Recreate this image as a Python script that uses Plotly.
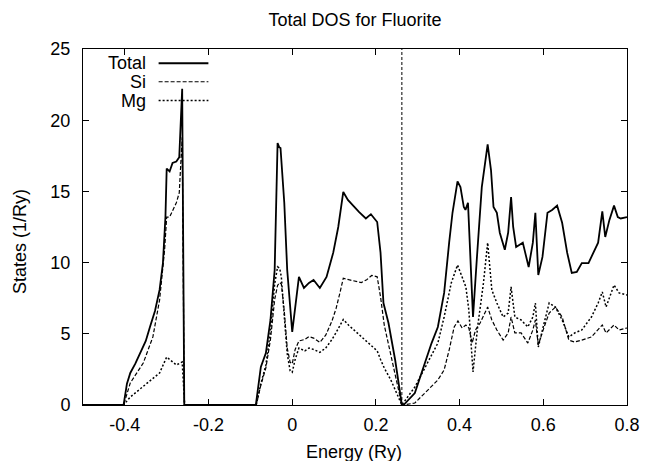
import plotly.graph_objects as go

# Total density of states (states / Ry) versus energy (Ry)
e_total = [-0.5, -0.403, -0.395, -0.387, -0.375, -0.363, -0.350, -0.340, -0.328, -0.317,
           -0.309, -0.303, -0.300, -0.293, -0.286, -0.277, -0.270, -0.263, -0.258,
           -0.087, -0.075, -0.063, -0.052, -0.042, -0.035, -0.031, -0.028, -0.019,
           -0.012, 0.0, 0.007, 0.016, 0.028, 0.040, 0.051, 0.066, 0.082, 0.098, 0.110,
           0.122, 0.133, 0.145, 0.160, 0.176, 0.188, 0.203, 0.211, 0.218, 0.230, 0.246,
           0.262, 0.266, 0.293, 0.317, 0.333, 0.348, 0.363, 0.375, 0.383, 0.395, 0.402,
           0.410, 0.414, 0.420, 0.424, 0.432, 0.441, 0.453, 0.467, 0.475, 0.481, 0.489,
           0.496, 0.508, 0.516, 0.523, 0.528, 0.535, 0.551, 0.565, 0.575, 0.581, 0.588,
           0.598, 0.610, 0.621, 0.633, 0.645, 0.657, 0.668, 0.680, 0.692, 0.708, 0.720,
           0.731, 0.741, 0.748, 0.758, 0.769, 0.778, 0.785, 0.800]
dos_total = [0.0, 0.0, 1.5, 2.25, 2.9, 3.65, 4.5, 5.48, 6.6, 8.08,
             9.97, 13.2, 16.6, 16.4, 17.0, 17.1, 17.4, 22.2, 0.0,
             0.0, 2.67, 3.65, 5.97, 9.48, 18.4, 18.1, 18.05, 14.2,
             9.48, 5.13, 6.67, 8.99, 8.22, 8.57, 8.78, 8.22, 8.99, 10.7, 12.5,
             14.96, 14.4, 14.0, 13.55, 13.1, 13.4, 12.85, 10.7, 7.16, 5.76, 3.16,
             0.0, 0.0, 0.84, 2.95, 4.35, 5.48, 7.87, 11.4, 13.5, 15.7, 15.3,
             13.9, 13.7, 14.2, 11.4, 6.18, 10.2, 15.3, 18.3, 16.5, 13.9, 13.5,
             12.1, 10.9, 12.1, 14.6, 12.5, 11.1, 11.4, 9.69, 11.4, 13.5, 9.13,
             10.4, 13.5, 13.7, 14.0, 12.8, 10.7, 9.27, 9.34, 9.97, 9.97, 10.7,
             11.4, 13.6, 11.8, 13.0, 14.0, 13.2, 13.1, 13.2]

# Si projected DOS
e_si = [-0.5, -0.403, -0.387, -0.356, -0.333, -0.317, -0.305, -0.300, -0.293, -0.277,
        -0.270, -0.263, -0.258,
        -0.086, -0.075, -0.063, -0.052, -0.042, -0.035, -0.030, -0.026, -0.019, -0.012,
        -0.005, 0.0, 0.007, 0.016, 0.030, 0.040, 0.051, 0.066, 0.080, 0.095, 0.105,
        0.115, 0.122, 0.135, 0.150, 0.165, 0.178, 0.190, 0.203, 0.211, 0.220, 0.235,
        0.250, 0.262, 0.266, 0.293, 0.324, 0.348, 0.363, 0.375, 0.387, 0.396, 0.406,
        0.415, 0.422, 0.430, 0.438, 0.449, 0.467, 0.477, 0.489, 0.504, 0.516, 0.523,
        0.532, 0.547, 0.563, 0.575, 0.581, 0.588, 0.602, 0.614, 0.629, 0.645, 0.661,
        0.675, 0.692, 0.715, 0.741, 0.750, 0.769, 0.781, 0.800]
dos_si = [0.0, 0.0, 1.55, 2.95, 4.78, 7.37, 10.9, 13.2, 13.2, 14.2,
          14.9, 18.8, 0.0,
          0.0, 1.4, 2.6, 4.6, 7.4, 8.4, 8.6, 8.5, 6.6, 4.0,
          3.0, 2.9, 3.9, 4.5, 4.6, 4.8, 4.7, 4.4, 4.9, 5.9, 6.8,
          8.0, 8.9, 8.8, 8.7, 8.6, 8.8, 9.1, 9.0, 7.6, 5.6, 3.6,
          1.6, 0.0, 0.0, 0.14, 1.05, 1.76, 2.46, 3.86, 5.48, 5.9, 5.41,
          5.62, 5.41, 4.35, 5.27, 5.76, 6.88, 5.97, 5.27, 4.56, 5.06, 6.18,
          5.06, 5.06, 4.35, 5.27, 5.97, 4.21, 5.48, 6.46, 6.88, 6.18, 4.56,
          4.42, 4.56, 4.78, 5.62, 5.06, 5.62, 5.27, 5.41]

# Mg projected DOS
e_mg = [-0.5, -0.403, -0.387, -0.347, -0.317, -0.300, -0.277, -0.263, -0.257,
        -0.086, -0.075, -0.063, -0.052, -0.042, -0.035, -0.030, -0.026, -0.019, -0.012,
        -0.005, 0.0, 0.007, 0.016, 0.030, 0.040, 0.051, 0.066, 0.080, 0.095, 0.105,
        0.115, 0.122, 0.135, 0.150, 0.165, 0.178, 0.190, 0.203, 0.211, 0.220, 0.235,
        0.250, 0.262, 0.293, 0.324, 0.348, 0.363, 0.380, 0.395, 0.406, 0.415, 0.422,
        0.432, 0.443, 0.457, 0.467, 0.477, 0.489, 0.504, 0.516, 0.523, 0.532, 0.547,
        0.563, 0.575, 0.581, 0.588, 0.602, 0.614, 0.629, 0.645, 0.661, 0.675, 0.692,
        0.715, 0.731, 0.741, 0.750, 0.769, 0.781, 0.800]
dos_mg = [0.0, 0.0, 0.56, 1.55, 2.25, 3.37, 2.81, 3.02, 0.0,
          0.0, 1.5, 2.8, 5.2, 8.5, 9.7, 9.6, 9.0, 6.2, 3.6,
          2.4, 2.3, 3.2, 4.0, 3.8, 4.0, 3.9, 3.7, 4.0, 4.6, 5.1,
          5.6, 6.0, 5.6, 5.2, 4.8, 4.5, 4.2, 3.8, 3.2, 2.6, 1.8,
          0.8, 0.0, 1.26, 2.95, 4.35, 6.18, 8.57, 9.83, 8.99, 8.29, 6.67,
          2.32, 5.48, 8.57, 11.4, 8.08, 7.16, 6.18, 6.46, 8.29, 6.18, 5.97,
          5.48, 6.18, 7.16, 4.07, 5.76, 7.16, 6.88, 5.97, 4.78, 5.06, 5.27,
          6.18, 7.16, 7.94, 6.88, 8.43, 7.87, 7.72]

E_FERMI = 0.262
X_TICKS = [-0.4, -0.2, 0.0, 0.2, 0.4, 0.6, 0.8]
X_TICK_TEXT = ["-0.4", "-0.2", "0", "0.2", "0.4", "0.6", "0.8"]
Y_TICKS = [0, 5, 10, 15, 20, 25]

FONT = "Liberation Sans, Arial, Helvetica, sans-serif"

series = [
    ("Total", e_total, dos_total, dict(color="black", width=1.8, dash="solid")),
    ("Si", e_si, dos_si, dict(color="black", width=1.2, dash="4px,2px")),
    ("Mg", e_mg, dos_mg, dict(color="black", width=1.5, dash="2px,2px")),
]

fig = go.Figure()
for name, x, y, line in reversed(series):
    fig.add_trace(go.Scatter(x=x, y=y, mode="lines", name=name, line=line,
                             showlegend=False))

# Fermi level marker
fig.add_shape(type="line", xref="x", yref="paper", x0=E_FERMI, x1=E_FERMI,
              y0=0, y1=1, line=dict(color="black", width=1, dash="3px,2px"))

# Key in the upper-left corner: label to the left, line sample to the right
key_y = [0.960, 0.908, 0.855]
for (name, _, _, line), ky in zip(series, key_y):
    fig.add_annotation(xref="paper", yref="paper", x=0.1197, y=ky, text=name,
                       showarrow=False, xanchor="right", yanchor="middle",
                       font=dict(family=FONT, size=18, color="black"))
    fig.add_shape(type="line", xref="paper", yref="paper", x0=0.139, x1=0.2305,
                  y0=ky, y1=ky, line=line)

# Axis titles
fig.add_annotation(xref="paper", yref="paper", x=0.498, y=-0.132, text="Energy (Ry)",
                   showarrow=False, xanchor="center", yanchor="middle",
                   font=dict(family=FONT, size=18, color="black"))
fig.add_annotation(xref="paper", yref="paper", x=-0.1155, y=0.458, text="States (1/Ry)",
                   showarrow=False, xanchor="center", yanchor="middle", textangle=-90,
                   font=dict(family=FONT, size=18, color="black"))

axis_common = dict(showline=True, linecolor="black", linewidth=1, mirror="allticks",
                   ticks="inside", ticklen=6, tickwidth=1, tickcolor="black",
                   showgrid=False, zeroline=False,
                   tickfont=dict(family=FONT, size=18, color="black"))

fig.update_xaxes(range=[-0.5, 0.8], tickvals=X_TICKS, ticktext=X_TICK_TEXT,
                 ticklabelstandoff=3, **axis_common)
fig.update_yaxes(range=[0, 25], tickvals=Y_TICKS, ticklabelstandoff=8, **axis_common)

fig.update_layout(
    width=652, height=461,
    margin=dict(l=83, r=15, t=49, b=56),
    paper_bgcolor="white", plot_bgcolor="white",
    title=dict(text="Total DOS for Fluorite", x=0.5, xref="paper",
               y=1 - 20 / 461, yref="container", yanchor="middle",
               font=dict(family=FONT, size=18, color="black")),
    font=dict(family=FONT, size=18, color="black"),
)

fig.write_html("out.html")
